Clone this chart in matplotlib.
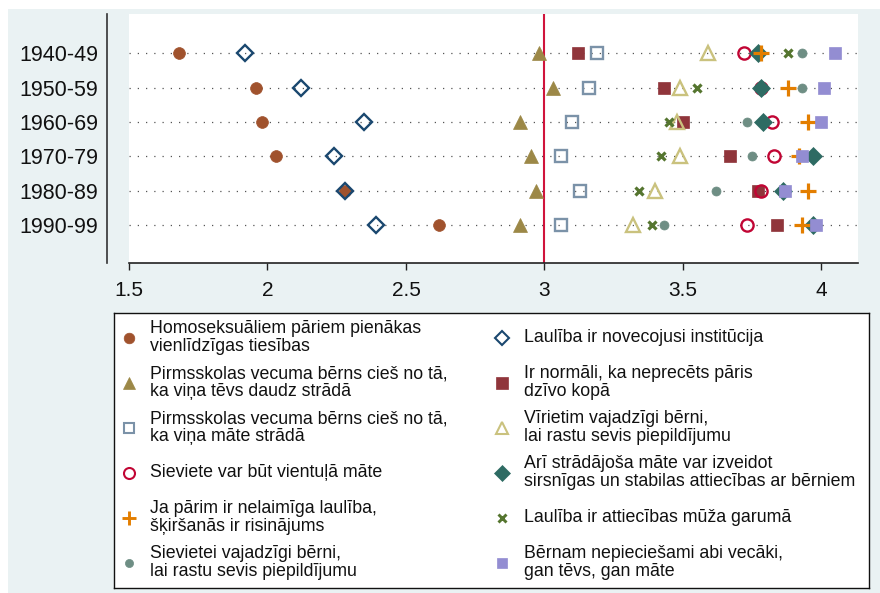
import matplotlib
matplotlib.use('Agg')
import matplotlib.pyplot as plt
from matplotlib.patches import Rectangle

plt.rcParams['font.family'] = ['Liberation Sans', 'DejaVu Sans']

# dati: vidējie vērtējumi pa dzimšanas desmitgadēm
dekades = ['1940-49', '1950-59', '1960-69', '1970-79', '1980-89', '1990-99']

homo_tiesibas = [1.68, 1.96, 1.98, 2.03, 2.28, 2.62]
laul_novecojusi = [1.92, 2.12, 2.35, 2.24, 2.28, 2.39]
tevs_strada = [2.98, 3.03, 2.91, 2.95, 2.97, 2.91]
neprecets_paris = [3.12, 3.43, 3.50, 3.67, 3.77, 3.84]
mate_strada = [3.19, 3.16, 3.10, 3.06, 3.13, 3.06]
virietim_berni = [3.59, 3.49, 3.48, 3.49, 3.40, 3.32]
vientula_mate = [3.72, 3.78, 3.82, 3.83, 3.78, 3.73]
stradajosa_mate = [3.77, 3.78, 3.79, 3.97, 3.86, 3.97]
skirsanas = [3.78, 3.88, 3.95, 3.92, 3.95, 3.93]
muza_garuma = [3.88, 3.55, 3.45, 3.42, 3.34, 3.39]
sievietei_berni = [3.93, 3.93, 3.73, 3.75, 3.62, 3.43]
abi_vecaki = [4.05, 4.01, 4.00, 3.93, 3.87, 3.98]

# (vērtības, leģendas teksts, marķieris, krāsa, izmērs, aizpildīts)
serijas = [
    (homo_tiesibas, 'Homoseksuāliem pāriem pienākas\nvienlīdzīgas tiesības', 'o', '#a0522d', 8.5, True),
    (laul_novecojusi, 'Laulība ir novecojusi institūcija', 'D', '#1a476f', 8.3, False),
    (tevs_strada, 'Pirmsskolas vecuma bērns cieš no tā,\nka viņa tēvs daudz strādā', '^', '#9c8847', 10, True),
    (neprecets_paris, 'Ir normāli, ka neprecēts pāris\ndzīvo kopā', 's', '#90353b', 9, True),
    (mate_strada, 'Pirmsskolas vecuma bērns cieš no tā,\nka viņa māte strādā', 's', '#7b92a8', 8.3, False),
    (virietim_berni, 'Vīrietim vajadzīgi bērni,\nlai rastu sevis piepildījumu', '^', '#cac27e', 10, False),
    (vientula_mate, 'Sieviete var būt vientuļā māte', 'o', '#c10534', 8.8, False),
    (stradajosa_mate, 'Arī strādājoša māte var izveidot\nsirsnīgas un stabilas attiecības ar bērniem', 'D', '#2e6b63', 9, True),
    (skirsanas, 'Ja pārim ir nelaimīga laulība,\nšķiršanās ir risinājums', '+', '#e37e00', 11, True),
    (muza_garuma, 'Laulība ir attiecības mūža garumā', 'x', '#55752f', 6.3, True),
    (sievietei_berni, 'Sievietei vajadzīgi bērni,\nlai rastu sevis piepildījumu', 'o', '#6e8e84', 6.5, True),
    (abi_vecaki, 'Bērnam nepieciešami abi vecāki,\ngan tēvs, gan māte', 's', '#938dd2', 8.3, True),
]

fig = plt.figure(figsize=(8.8, 5.93), dpi=100, facecolor='white')
# fona laukums (attēls apgriezts: augšā un kreisajā malā balta josla)
fig.patches.append(Rectangle((8 / 880, 0), 1, 1 - 9 / 593, transform=fig.transFigure,
                             facecolor='#eaf2f3', edgecolor='none', zorder=-10))

ax = fig.add_axes([129 / 880, 1 - 262.5 / 593, (858 - 129) / 880, (262.5 - 14) / 593])
ax.set_facecolor('white')

rindas = list(range(1, len(dekades) + 1))
for r in rindas:
    ax.axhline(r, color='#555555', lw=0.9, ls=(0, (1, 5.6)), zorder=1)
ax.axvline(3, color='#d0143c', lw=1.5, zorder=2)


def zimet(a, vals, y, m, c, ms, filled, lw):
    if m in ('+', 'x'):
        a.plot(vals, y, ls='none', marker=m, color=c, ms=ms, mew=lw + 0.6)
    elif filled:
        a.plot(vals, y, ls='none', marker=m, color=c, ms=ms, mec=c, mew=0.5)
    else:
        a.plot(vals, y, ls='none', marker=m, mfc='none', mec=c, ms=ms, mew=lw)


for i, (vals, lab, m, c, ms, filled) in enumerate(serijas):
    zimet(ax, vals, rindas, m, c, ms, filled, 1.7)

ax.set_xlim(1.5, 4.132)
ax.set_ylim(7.1, -0.15)
ax.set_yticks(rindas)
ax.set_yticklabels(dekades)
ax.set_xticks([1.5, 2, 2.5, 3, 3.5, 4])
ax.set_xticklabels(['1.5', '2', '2.5', '3', '3.5', '4'])
ax.tick_params(axis='y', length=0, pad=6, labelsize=15.5, labelcolor='#111111')
ax.tick_params(axis='x', length=5, width=1, pad=8, labelsize=15, color='#222222',
               labelcolor='#111111')

for s in ('top', 'right'):
    ax.spines[s].set_visible(False)
ax.spines['left'].set_position(('outward', 16))
ax.spines['left'].set_color('#333333')
ax.spines['left'].set_linewidth(1.2)
ax.spines['bottom'].set_color('#222222')
ax.spines['bottom'].set_linewidth(1.2)

# leģenda
lx0, ly0, lx1, ly1 = 114, 312.5, 869, 588
lax = fig.add_axes([lx0 / 880, 1 - ly1 / 593, (lx1 - lx0) / 880, (ly1 - ly0) / 593])
lax.set_xlim(0, lx1 - lx0)
lax.set_ylim(ly1 - ly0, 0)
lax.set_xticks([])
lax.set_yticks([])
for s in lax.spines.values():
    s.set_color('#111111')
    s.set_linewidth(1.0)

for i, (vals, lab, m, c, ms, filled) in enumerate(serijas):
    kol = i % 2
    rinda = i // 2
    y = 25 + 45 * rinda
    mx = 14.5 if kol == 0 else 388
    tx = 36.5 if kol == 0 else 409.5
    zimet(lax, [mx], [y], m, c, ms * 0.9, filled, 1.5)
    lax.text(tx, y, lab, va='center', ha='left', fontsize=12.8, linespacing=1.02, color='#111111')

fig.savefig('out.png', dpi=100, facecolor=fig.get_facecolor())
